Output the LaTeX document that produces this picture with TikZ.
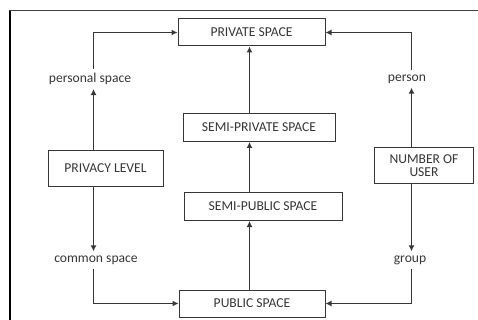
\documentclass[tikz,border=0pt]{standalone}
\usepackage{fontspec}
\setmainfont{Carlito}
\usetikzlibrary{arrows.meta}

\definecolor{ink}{HTML}{363636}

\tikzset{
    spacebox/.style={draw=ink, line width=1pt, text=ink, inner sep=0pt, minimum height=27pt},
    tagtext/.style={text=ink, inner sep=4pt},
    flow/.style={draw=ink, line width=1.3pt, -{Latex[length=6pt, width=6pt]}}
}

\begin{document}
\begin{tikzpicture}[x=1pt, y=-1pt, font=\fontsize{13.6}{13}\selectfont]
    \useasboundingbox (0,0) rectangle (478,320);
    \draw[line width=2pt] (10,320) -- (10,11);
    \draw[line width=1pt, black!75] (9,11) -- (478,11);

    % columns of the connectors
    \coordinate (lcol) at (93.5,0);
    \coordinate (mcol) at (249.5,0);
    \coordinate (rcol) at (411.5,0);

    % spaces, from private to public
    \node[spacebox, minimum width=147pt] (priv) at (251.5,32.5) {PRIVATE SPACE};
    \node[spacebox, minimum width=152pt, minimum height=28pt] (spriv) at (259,127.5) {SEMI-PRIVATE SPACE};
    \node[spacebox, minimum width=158pt, minimum height=28pt] (spub) at (263,206.5) {SEMI-PUBLIC SPACE};
    \node[spacebox, minimum width=146pt] (pub) at (252,303.5) {PUBLIC SPACE};

    % the two criteria
    \node[spacebox, minimum width=115pt, minimum height=36pt] (plevel) at (105.5,168.5) {PRIVACY LEVEL};
    \node[spacebox, minimum width=99pt, minimum height=36pt, align=center] (nuser) at (424,165.5) {NUMBER OF\\USER};

    \node[tagtext] (pers) at (90,79) {personal space};
    \node[tagtext] (comm) at (96,260) {common space};
    \node[tagtext] (one) at (407,79) {person};
    \node[tagtext] (grp) at (410,260) {group};

    \draw[flow] (pub.north -| mcol) -- (spub.south -| mcol);
    \draw[flow] (spub.north -| mcol) -- (spriv.south -| mcol);
    \draw[flow] (spriv.north -| mcol) -- (priv.south -| mcol);

    \draw[flow] (plevel.north -| lcol) -- (pers.south -| lcol);
    \draw[flow] (plevel.south -| lcol) -- (comm.north -| lcol);
    \draw[flow] (pers.north -| lcol) |- (priv.west);
    \draw[flow] (comm.south -| lcol) |- (pub.west);

    \draw[flow] (nuser.north -| rcol) -- (one.south -| rcol);
    \draw[flow] (nuser.south -| rcol) -- (grp.north -| rcol);
    \draw[flow] (one.north -| rcol) |- (priv.east);
    \draw[flow] (grp.south -| rcol) |- (pub.east);
\end{tikzpicture}
\end{document}
